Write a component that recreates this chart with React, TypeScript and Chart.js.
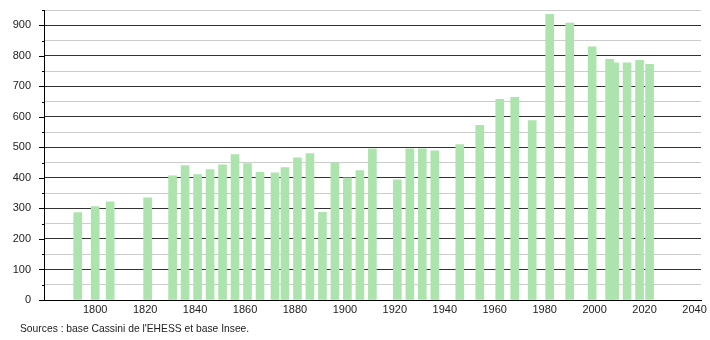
import React, { useEffect, useRef } from "react";
import { Chart, registerables } from "chart.js";

Chart.register(...registerables);

const years = [1793, 1800, 1806, 1821, 1831, 1836, 1841, 1846, 1851, 1856, 1861, 1866, 1872, 1876, 1881, 1886, 1891, 1896, 1901, 1906, 1911, 1921, 1926, 1931, 1936, 1946, 1954, 1962, 1968, 1975, 1982, 1990, 1999, 2006, 2008, 2013, 2018, 2022];
const population = [286, 306, 322, 335, 407, 440, 411, 427, 443, 476, 447, 418, 417, 434, 466, 480, 287, 449, 400, 424, 495, 394, 495, 495, 489, 509, 572, 657, 664, 588, 936, 907, 829, 788, 777, 777, 785, 772];
const xTickLabels = [1800, 1820, 1840, 1860, 1880, 1900, 1920, 1940, 1960, 1980, 2000, 2020, 2040];
const yTickLabels = [0, 100, 200, 300, 400, 500, 600, 700, 800, 900];
const sourceText = "Sources : base Cassini de l'EHESS et base Insee.";

const FONT = "'Liberation Sans', Arial, sans-serif";

export default function App() {
  const ref = useRef<HTMLCanvasElement | null>(null);

  useEffect(() => {
    if (!ref.current) return;
    const extras = {
      id: "extras",
      afterDraw(chart: any) {
        const ctx = chart.ctx;
        const y = chart.scales.y;
        const area = chart.chartArea;
        ctx.save();
        ctx.strokeStyle = "#000";
        ctx.lineWidth = 1;
        for (let v = 0; v <= 950; v += 50) {
          const py = Math.round(y.getPixelForValue(v)) + 0.5;
          const len = v % 100 === 0 ? 5 : 2;
          ctx.beginPath();
          ctx.moveTo(area.left - len, py);
          ctx.lineTo(area.left, py);
          ctx.stroke();
        }
        ctx.fillStyle = "#222";
        ctx.font = "10.3px " + FONT;
        ctx.textBaseline = "middle";
        ctx.textAlign = "left";
        ctx.fillText(sourceText, 20, 329);
        ctx.restore();
      },
    };
    const chart = new Chart(ref.current, {
      type: "bar",
      data: {
        datasets: [
          {
            data: years.map((yr, i) => ({ x: yr, y: population[i] })),
            backgroundColor: "rgb(173,227,173)",
            borderWidth: 0,
            barThickness: 8,
          },
        ],
      },
      options: {
        animation: false,
        responsive: false,
        maintainAspectRatio: false,
        layout: { padding: { left: 0, right: 9, top: 10, bottom: 0 } },
        plugins: { legend: { display: false }, tooltip: { enabled: false } },
        scales: {
          x: {
            type: "linear",
            offset: false,
            min: 1779.5,
            max: 2042.6,
            afterBuildTicks(scale: any) {
              scale.ticks = xTickLabels.map((v) => ({ value: v }));
            },
            afterFit(scale: any) {
              scale.height = 40;
              scale.paddingLeft = 0;
              scale.paddingRight = 0;
            },
            grid: { display: false, drawTicks: false },
            border: { display: true, color: "#000", width: 1 },
            ticks: {
              padding: 3,
              color: "#222",
              font: { family: FONT, size: 11 },
              maxRotation: 0,
              autoSkip: false,
              callback: (v: any) => String(v),
            },
          },
          y: {
            min: 0,
            max: 950,
            afterBuildTicks(scale: any) {
              const t: any[] = [];
              for (let v = 0; v <= 950; v += 50) t.push({ value: v });
              scale.ticks = t;
            },
            afterFit(scale: any) {
              scale.width = 44;
              scale.paddingTop = 0;
              scale.paddingBottom = 0;
            },
            grid: {
              drawTicks: false,
              color: (c: any) => (c.tick && c.tick.value % 100 === 0 ? "#333" : "#cccccc"),
              lineWidth: 1,
            },
            border: { display: true, color: "#000", width: 1 },
            ticks: {
              padding: 13,
              color: "#222",
              font: { family: FONT, size: 11 },
              autoSkip: false,
              callback: (v: any) => (yTickLabels.includes(Number(v)) ? String(v) : ""),
            },
          },
        },
      },
      plugins: [extras],
    } as any);
    return () => chart.destroy();
  }, []);

  return (
    <div style={{ position: "fixed", left: 0, top: 0, width: 710, height: 340, background: "#fff" }}>
      <canvas ref={ref} width={710} height={340} style={{ width: 710, height: 340 }} />
    </div>
  );
}
